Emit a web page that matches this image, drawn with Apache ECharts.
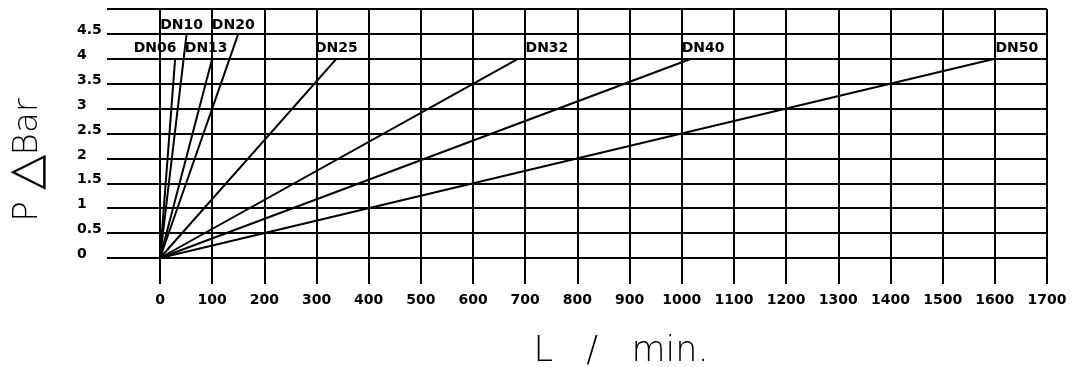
<!DOCTYPE html>
<html>
<head>
<meta charset="utf-8">
<script src="https://cdn.jsdelivr.net/npm/echarts@6/dist/echarts.min.js"></script>
<style>
html,body{margin:0;padding:0;background:#fff;}
#chart{width:1090px;height:367px;}
</style>
</head>
<body>
<div id="chart"></div>
<script>
// ---- data ----
const seriesNames = ['DN06', 'DN10', 'DN13', 'DN20', 'DN25', 'DN32', 'DN40', 'DN50'];
const startFlow = [0, 0, 0, 0, 0, 0, 0, 0];
const startPressure = [0, 0, 0, 0, 0, 0, 0, 0];
const endFlow = [29, 51, 100, 150, 338, 686, 1018, 1600];
const endPressure = [4, 4.5, 4, 4.5, 4, 4, 4, 4];
const xAxisMin = 0, xAxisMax = 1700, xStep = 100;
const yAxisMin = 0, yAxisMax = 5, yStep = 0.5;
const yTitleParts = ['P ', '△', 'Bar'];
const xAxisTitle = 'L   /   min.';

// ---- layout (label offsets in px, not data) ----
const labelOffsets = [[-20, -10], [-5, -9], [-6, -10], [-5, -9], [0, -10], [29, -10], [12, -10], [22, -10]];

const chart = echarts.init(document.getElementById('chart'), null, {renderer: 'canvas'});
const black = '#000';
const tickFont = {fontFamily: 'DejaVu Sans', fontWeight: 'bold', fontSize: 14, color: black};

const series = seriesNames.map((name, i) => ({
  type: 'line',
  name: name,
  data: [
    {value: [startFlow[i], startPressure[i]], symbolSize: 0},
    {value: [endFlow[i], endPressure[i]], label: {
      show: true, formatter: name, position: 'inside', offset: labelOffsets[i],
      align: 'center', verticalAlign: 'middle',
      fontFamily: 'DejaVu Sans', fontWeight: 'bold', fontSize: 14, color: black
    }}
  ],
  symbol: 'circle',
  symbolSize: 0.01,
  showSymbol: true,
  itemStyle: {color: black},
  lineStyle: {color: black, width: 2},
  silent: true,
  animation: false,
  z: 3
}));

chart.setOption({
  backgroundColor: '#fff',
  animation: false,
  grid: {left: 160, right: 43, top: 9, bottom: 109, containLabel: false},
  xAxis: {
    type: 'value', min: xAxisMin, max: xAxisMax, interval: xStep,
    axisLine: {show: true, lineStyle: {color: black, width: 2}},
    axisTick: {show: true, length: 26, inside: false, lineStyle: {color: black, width: 2}},
    splitLine: {show: true, lineStyle: {color: black, width: 2}},
    axisLabel: Object.assign({margin: 35, formatter: v => String(v)}, tickFont)
  },
  yAxis: {
    type: 'value', min: yAxisMin, max: yAxisMax, interval: yStep,
    axisLine: {show: true, lineStyle: {color: black, width: 2}},
    axisTick: {show: true, length: 53, inside: false, lineStyle: {color: black, width: 2}},
    splitLine: {show: true, lineStyle: {color: black, width: 2}},
    axisLabel: Object.assign({
      margin: 83, align: 'left', verticalAlign: 'bottom', lineHeight: 7,
      formatter: v => (v >= yAxisMax ? '' : String(v))
    }, tickFont)
  },
  graphic: [
    {type: 'text', x: 28, y: 160, rotation: Math.PI / 2,
     style: {text: '{a|' + yTitleParts[0] + '}{t|' + yTitleParts[1] + '}{a|' + yTitleParts[2] + '}',
             rich: {
               a: {fontFamily: 'DejaVu Sans', fontWeight: 200, fontSize: 34, fill: black, verticalAlign: 'middle'},
               t: {fontFamily: 'DejaVu Sans', fontWeight: 200, fontSize: 46, fill: black, verticalAlign: 'middle'}
             },
             align: 'center', verticalAlign: 'middle'}},
    {type: 'text', x: 621, y: 352,
     style: {text: xAxisTitle, fontFamily: 'DejaVu Sans', fontWeight: 200, fontSize: 35,
             fill: black, align: 'center', verticalAlign: 'middle'}}
  ],
  series: series
});
</script>
</body>
</html>
